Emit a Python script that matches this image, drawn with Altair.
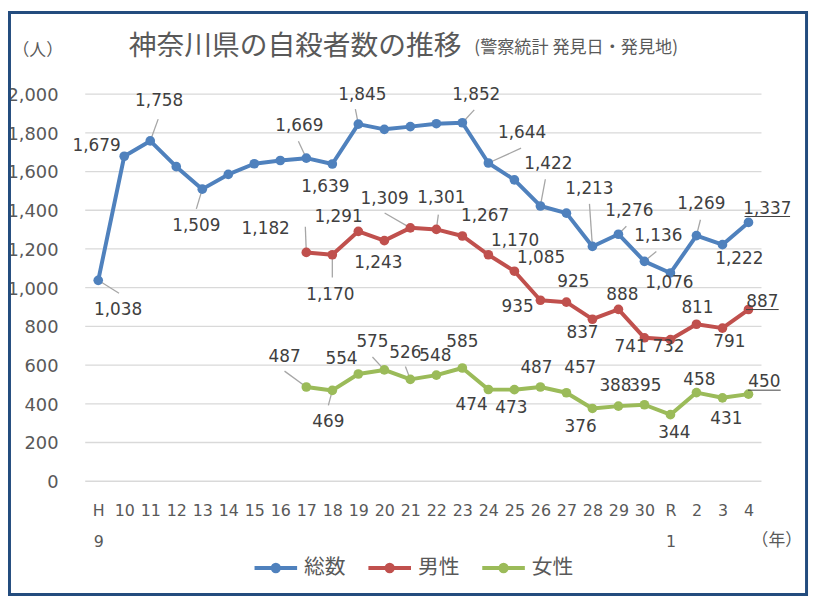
import json
import altair as alt
import pandas as pd

# ---------------- data ----------------
categories = ["H9", "10", "11", "12", "13", "14", "15", "16", "17", "18", "19", "20", "21",
              "22", "23", "24", "25", "26", "27", "28", "29", "30", "R1", "2", "3", "4"]
tick_labels = [["H", "9"], "10", "11", "12", "13", "14", "15", "16", "17", "18", "19", "20", "21",
               "22", "23", "24", "25", "26", "27", "28", "29", "30", ["R", "1"], "2", "3", "4"]
y_ticks = [0, 200, 400, 600, 800, 1000, 1200, 1400, 1600, 1800, 2000]
y_tick_labels = ["0", "200", "400", "600", "800", "1,000", "1,200", "1,400", "1,600", "1,800", "2,000"]
series_names = ["総数", "男性", "女性"]
series_colors = ["#4F81BD", "#C0504D", "#9BBB59"]

total = [1038, 1679, 1758, 1625, 1509, 1585, 1640, 1657, 1669, 1639, 1845, 1818, 1832,
         1847, 1852, 1644, 1557, 1422, 1385, 1213, 1276, 1136, 1076, 1269, 1222, 1337]
male_start = 8
male = [1182, 1170, 1291, 1243, 1309, 1301, 1267, 1170, 1085, 935, 925, 837, 888,
        741, 732, 811, 791, 887]
female_start = 8
female = [487, 469, 554, 575, 526, 548, 585, 474, 473, 487, 457, 376, 388,
          395, 344, 458, 431, 450]

# ---------------- label layout (pixel offsets from the point) ----------------
total_label_off = [(20, 30), (-28, -10), (9, -40), None, (-6, 37), None, None, None, (-7, -32),
                   (-7, 23), (4, -29), None, None, None, (14, -28), (34, -30), None, (8, -42),
                   None, (-3, -58), (11, -23), (14, -26), (-1, 10), (5, -32), (17, 14), (19, -14)]
male_label_off = [(-41, -24), (-2, 41), (-20, -14), (-6, 23), (-26, -29), (5, -32), (23, -20),
                  (27, -14), (27, -13), (-23, 7), (7, -20), (-10, 14), (4, -14), (-14, 9),
                  (-2, 8), (1, -16), (7, 14), (14, -8)]
female_label_off = [(-22, -30), (-4, 32), (-17, -15), (-12, -28), (-5, -27), (-1, -19), (0, -26),
                    (-17, 16), (-3, 19), (-4, -19), (14, -25), (-12, 19), (-3, -20), (1, -19),
                    (4, 19), (3, -13), (4, 21), (16, -12)]
total_leaders = {0: (21, 13), 2: (8, -22), 4: (-6, 20), 8: (-8, -17), 10: (-3, -15), 14: (12, -13),
                 15: (33, -15), 17: (5, -27), 19: (-3, -43), 20: (8, -8), 21: (12, -10), 23: (4, -16)}
male_leaders = {8: (-1, -26), 9: (0, 23), 12: (-26, -15), 13: (2, -15)}
female_leaders = {8: (-22, -16), 9: (-4, 15), 11: (-12, -13), 12: (-5, -13)}
underline_w = {"総数": 46, "男性": 33, "女性": 33}

W, H = 683, 391
N = len(categories)
PX = W / N
PY = H / 2000.0

rows = []
def add(series, start, vals, offs, leaders):
    for k, v in enumerate(vals):
        i = start + k
        off = offs[k]
        r = {"series": series, "idx": i, "v": v, "label": f"{v:,}"}
        if off is not None:
            r["tx"] = i + off[0] / PX
            r["ty"] = v - off[1] / PY
        if i in leaders:
            r["ex"] = i + leaders[i][0] / PX
            r["ey"] = v - leaders[i][1] / PY
        if i == N - 1 and off is not None:
            w = underline_w[series]
            r["ux1"] = r["tx"] - (w / 2) / PX
            r["ux2"] = r["tx"] + (w / 2) / PX
            r["uy"] = r["ty"] - 8 / PY
        rows.append(r)

add("総数", 0, total, total_label_off, total_leaders)
add("男性", male_start, male, male_label_off, male_leaders)
add("女性", female_start, female, female_label_off, female_leaders)
df = pd.DataFrame(rows)
ydf = pd.DataFrame({"y": y_ticks, "lab": y_tick_labels})

xscale = alt.Scale(domain=[-0.5, N - 0.5], nice=False, zero=False)
yscale = alt.Scale(domain=[0, 2000], nice=False, zero=True)

label_expr = json.dumps(tick_labels, ensure_ascii=False) + "[datum.value]"

x_axis = alt.Axis(values=list(range(N)), tickCount=N, labelExpr=label_expr, grid=False, domain=False,
                  ticks=False, tickSize=0, labelOverlap=False, labelFont="DejaVu Sans", labelFontSize=16,
                  labelColor="#595959", labelPadding=22, labelLineHeight=31, labelBaseline="top",
                  title="（年）", titleFont="Noto Sans CJK JP", titleFontSize=17, titleFontWeight="normal",
                  titleColor="#595959", titleX=698, titleY=60, titleAlign="center",
                  titleBaseline="middle")
y_axis = alt.Axis(labels=False, grid=False, domain=False, ticks=False, tickSize=0,
                  title="（人）", titleAngle=0, titleFont="Noto Sans CJK JP", titleFontSize=17,
                  titleFontWeight="normal", titleColor="#595959", titleX=-48.5, titleY=-44,
                  titleAlign="center", titleBaseline="middle")

base = alt.Chart(df)

X = lambda f: alt.X(f"{f}:Q", scale=xscale, axis=x_axis)
Y = lambda f: alt.Y(f"{f}:Q", scale=yscale, axis=y_axis)

sym_path = ("M-1,0H1"
            "M-0.102,0A0.102,0.102,0,1,1,0.102,0A0.102,0.102,0,1,1,-0.102,0Z"
            "M-0.149,0A0.149,0.149,0,1,1,0.149,0A0.149,0.149,0,1,1,-0.149,0Z")
legend = alt.Legend(title="x", titleOpacity=0, titleFontSize=2, titleOrient="left", titlePadding=167,
                    orient="bottom", direction="horizontal", offset=-5,
                    symbolType=sym_path, symbolSize=1849, symbolStrokeWidth=4,
                    labelFont="Noto Sans CJK JP", labelFontSize=21, labelColor="#595959",
                    labelOffset=5, columnPadding=15, padding=0)
color = alt.Color("series:N", scale=alt.Scale(domain=series_names, range=series_colors), legend=legend)

grid = alt.Chart(ydf).mark_rule(color="#D9D9D9", strokeWidth=1.3).encode(
    x=alt.value(0), x2=alt.value(W), y=Y("y"))
ylabels = alt.Chart(ydf).mark_text(align="right", baseline="middle", dy=2, font="DejaVu Sans",
                                   fontSize=18, color="#595959").encode(
    x=alt.value(-27), y=Y("y"), text="lab:N")

lines = base.mark_line(strokeWidth=4, strokeJoin="round").encode(
    x=X("idx"), y=Y("v"), color=color, detail="series:N")

leaders = base.transform_filter("isValid(datum.ex)").mark_rule(color="#A6A6A6", strokeWidth=1.3).encode(
    x=X("idx"), y=Y("v"), x2="ex:Q", y2="ey:Q")

points = base.mark_point(filled=True, size=95, strokeWidth=1, opacity=1).encode(
    x=X("idx"), y=Y("v"), color=color)

labels = base.transform_filter("isValid(datum.tx)").mark_text(
    font="DejaVu Sans", fontSize=17, color="#404040", align="center", baseline="middle").encode(
    x=X("tx"), y=Y("ty"), text="label:N")

underlines = base.transform_filter("isValid(datum.ux1)").mark_rule(color="#404040", strokeWidth=1).encode(
    x=X("ux1"), x2="ux2:Q", y=Y("uy"))

title = alt.Chart(pd.DataFrame({"t": ["神奈川県の自殺者数の推移"]})).mark_text(
    align="left", baseline="middle", font="Noto Sans CJK JP", fontSize=28, color="#595959").encode(
    x=alt.value(44), y=alt.value(-47), text="t:N")
subtitle = alt.Chart(pd.DataFrame({"t": ["(警察統計  発見日・発見地)"]})).mark_text(
    align="left", baseline="middle", font="Noto Sans CJK JP", fontSize=17.3, color="#595959").encode(
    x=alt.value(393), y=alt.value(-46), text="t:N")
frame = alt.Chart(pd.DataFrame({"a": [0]})).mark_rect(fillOpacity=0, stroke="#234C7E", strokeWidth=3).encode(
    x=alt.value(-76.5), x2=alt.value(728.5), y=alt.value(-82.5), y2=alt.value(505.5))

chart = alt.layer(grid, ylabels, lines, leaders, points, labels, underlines, title, subtitle, frame).properties(
    width=W, height=H,
    autosize=alt.AutoSizeParams(type="none"),
    padding={"left": 78, "top": 84, "right": 49, "bottom": 117},
    background="white",
).configure_view(stroke=None)

chart.save("out.html", embed_options={"renderer": "svg", "actions": False})
